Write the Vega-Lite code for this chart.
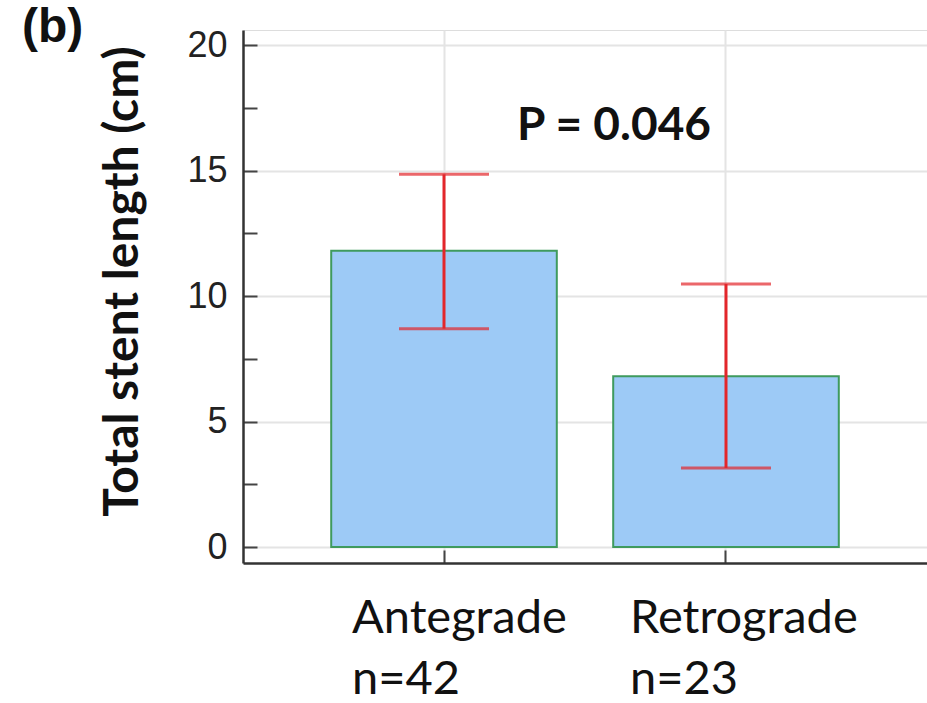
{
  "$schema": "https://vega.github.io/schema/vega-lite/v6.json",
  "autosize": "none",
  "width": 684,
  "height": 533,
  "padding": {"left": 243, "top": 30, "right": 0, "bottom": 140},
  "background": "white",
  "title": {
    "text": "(b)",
    "anchor": "start",
    "frame": "group",
    "font": "Liberation Sans",
    "fontSize": 48,
    "fontWeight": "bold",
    "color": "#111111",
    "baseline": "alphabetic",
    "offset": 0,
    "dx": -221,
    "dy": 63
  },
  "data": {
    "values": [
      {"group": "Antegrade", "mean": 11.8, "lo": 8.7, "hi": 14.85, "n": 42},
      {"group": "Retrograde", "mean": 6.8, "lo": 3.15, "hi": 10.48, "n": 23}
    ]
  },
  "encoding": {
    "x": {
      "field": "group",
      "type": "nominal",
      "sort": null,
      "scale": {"paddingInner": 0.2, "paddingOuter": 0.3128},
      "axis": {
        "title": null,
        "orient": "bottom",
        "bandPosition": 0.5,
        "grid": true,
        "gridColor": "#e4e4e4",
        "gridWidth": 2,
        "domainColor": "#333333",
        "domainWidth": 2.5,
        "tickColor": "#444444",
        "tickWidth": 2,
        "tickSize": -13,
        "labelAngle": 0,
        "labelAlign": "left",
        "labelBaseline": "alphabetic",
        "labelOffset": {"condition": {"test": "datum.value == 'Antegrade'", "value": -92}, "value": -96},
        "labelPadding": 82,
        "labelLineHeight": 61,
        "labelLimit": 0,
        "labelFont": "Lato",
        "labelFontSize": 47,
        "labelColor": "#111111",
        "labelExpr": "datum.value == 'Antegrade' ? ['Antegrade', 'n=42'] : ['Retrograde', 'n=23']"
      }
    }
  },
  "layer": [
    {
      "mark": {"type": "bar", "fill": "#9dcaf6", "stroke": "#3f9a5e", "strokeWidth": 2},
      "encoding": {
        "y": {
          "field": "mean",
          "type": "quantitative",
          "scale": {"domain": [-0.637, 20.6], "nice": false, "zero": false},
          "axis": {
            "title": "Total stent length (cm)",
            "titleFont": "Lato",
            "titleFontWeight": "bold",
            "titleFontSize": 48,
            "titleColor": "#111111",
            "titleAngle": -90,
            "titleAlign": "center",
            "titleBaseline": "alphabetic",
            "titleX": -106,
            "titleY": 251,
            "values": [0, 2.5, 5, 7.5, 10, 12.5, 15, 17.5, 20],
            "labelExpr": "datum.value % 5 == 0 ? datum.label : ''",
            "labelFont": "Liberation Sans",
            "labelFontSize": 36,
            "labelColor": "#222222",
            "labelPadding": 30,
            "grid": true,
            "gridColor": "#e4e4e4",
            "gridWidth": 2,
            "gridOpacity": {"condition": {"test": "datum.value % 5 != 0", "value": 0}, "value": 1},
            "domainColor": "#333333",
            "domainWidth": 2.5,
            "tickColor": "#444444",
            "tickWidth": 2,
            "tickSize": -14
          }
        }
      }
    },
    {
      "mark": {"type": "rule", "color": "#e3262b", "strokeWidth": 3},
      "encoding": {
        "y": {"field": "lo", "type": "quantitative"},
        "y2": {"field": "hi"}
      }
    },
    {
      "mark": {"type": "tick", "color": "#e3262b", "thickness": 3, "size": 90},
      "encoding": {"y": {"field": "hi", "type": "quantitative"}}
    },
    {
      "mark": {"type": "tick", "color": "#e3262b", "thickness": 3, "size": 90},
      "encoding": {"y": {"field": "lo", "type": "quantitative"}}
    },
    {
      "data": {"values": [{"label": "P = 0.046", "group": "Retrograde", "ypos": 16.2}]},
      "mark": {"type": "text", "font": "Lato", "fontWeight": "bold", "fontSize": 46, "color": "#111111", "align": "right", "baseline": "alphabetic", "dx": -15},
      "encoding": {
        "x": {"field": "group", "type": "nominal"},
        "y": {"field": "ypos", "type": "quantitative"},
        "text": {"field": "label"}
      }
    }
  ]
}
